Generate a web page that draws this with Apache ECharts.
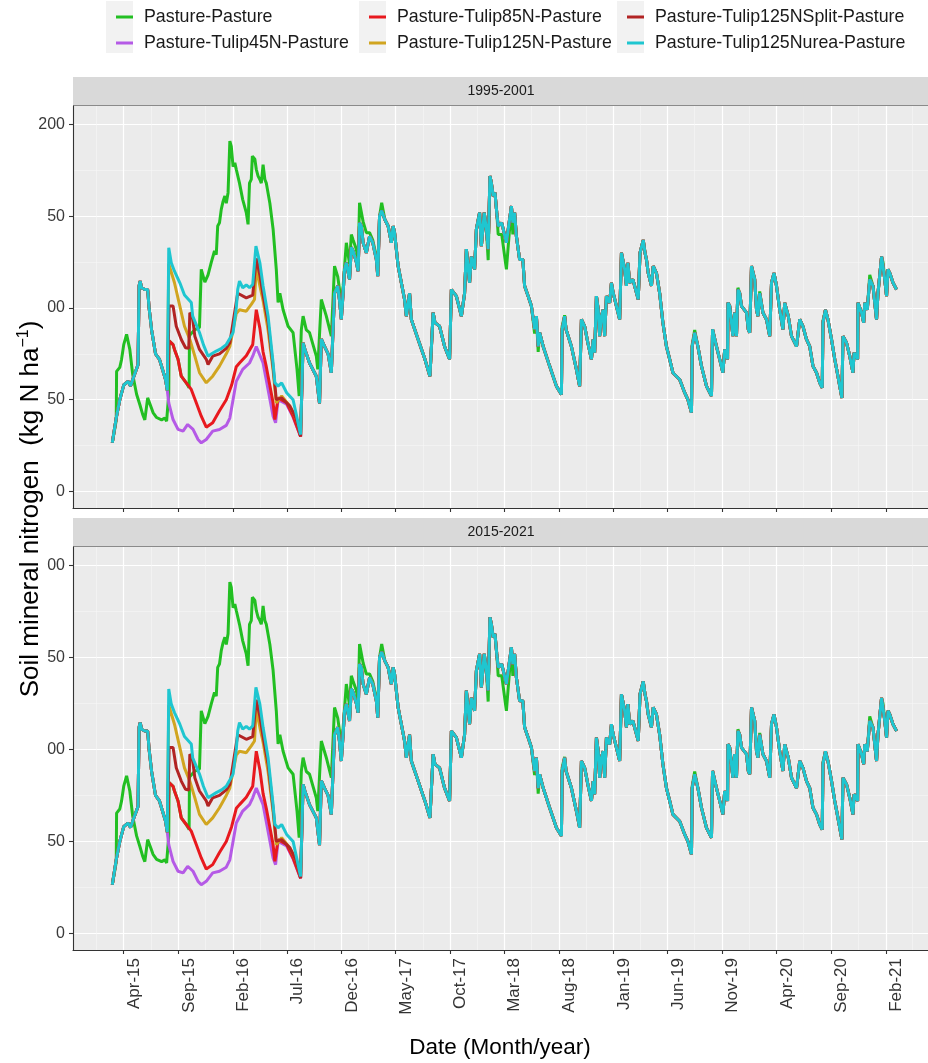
<!DOCTYPE html>
<html><head><meta charset="utf-8">
<script src="https://cdn.jsdelivr.net/npm/echarts@6/dist/echarts.min.js"></script>
<style>html,body{margin:0;padding:0;background:#fff}#c{width:928px;height:1063px}</style>
</head><body><div id="c"></div>
<script>
const seriesNames = ['Pasture-Pasture','Pasture-Tulip45N-Pasture','Pasture-Tulip85N-Pasture','Pasture-Tulip125N-Pasture','Pasture-Tulip125NSplit-Pasture','Pasture-Tulip125Nurea-Pasture'];
const seriesColors = ['#22bf22','#b55ae6','#e8191e','#d1a520','#b22424','#1fc6d0'];
const panelTitles = ['1995-2001','2015-2021'];
const xTickDates = ['2015-04-01','2015-09-01','2016-02-01','2016-07-01','2016-12-01','2017-05-01','2017-10-01','2018-03-01','2018-08-01','2019-01-01','2019-06-01','2019-11-01','2020-04-01','2020-09-01','2021-02-01'];
const xTickLabels = ['Apr-15','Sep-15','Feb-16','Jul-16','Dec-16','May-17','Oct-17','Mar-18','Aug-18','Jan-19','Jun-19','Nov-19','Apr-20','Sep-20','Feb-21'];
const xMinorDates = ['2015-01-15','2015-06-16','2015-11-16','2016-04-16','2016-09-15','2017-02-14','2017-07-16','2017-12-15','2018-05-16','2018-10-16','2019-03-17','2019-08-16','2020-01-16','2020-06-16','2020-11-16','2021-04-17'];
const yTickValues = [0,50,100,150,200];
const yTickLabelsTop = ['0','50','00','50','200'];
const yTickLabelsBottom = ['0','50','00','50','00'];
const yMinorValues = [25,75,125,175];

// Pasture-Pasture
const greenEarly = [['2015-02-28',26.5],['2015-03-11',38.7],['2015-03-12',65.4],['2015-03-21',67.6],['2015-03-26',72],['2015-04-01',80],['2015-04-09',85.6],['2015-04-18',77.4],['2015-04-26',63.8],['2015-05-07',53],['2015-05-16',47.4],['2015-05-24',42],['2015-05-30',39],['2015-06-07',51],['2015-06-17',45.8],['2015-06-22',43],['2015-07-02',40.3],['2015-07-16',39],['2015-07-25',40],['2015-07-30',38.3],['2015-08-03',38.3],['2015-08-05',53],['2015-08-06',82],['2015-08-17',80],['2015-08-21',77.4],['2015-08-31',72],['2015-09-09',62.8],['2015-09-23',59.2],['2015-10-01',56.5],['2015-10-02',85],['2015-10-16',88],['2015-10-30',89.4],['2015-11-04',121],['2015-11-14',114],['2015-11-23',118],['2015-12-02',124.8],['2015-12-07',124.6],['2015-12-11',131],['2015-12-16',129],['2015-12-20',144.6],['2015-12-25',146.4],['2015-12-30',153.7],['2016-01-04',158],['2016-01-09',161],['2016-01-13',157],['2016-01-18',162.8],['2016-01-23',190.9],['2016-01-27',188],['2016-02-01',177],['2016-02-06',179],['2016-02-10',175.5],['2016-02-19',168],['2016-02-28',159],['2016-03-09',151.9],['2016-03-14',145.5],['2016-03-16',157],['2016-03-18',168],['2016-03-23',170],['2016-03-26',182.7],['2016-04-02',181],['2016-04-06',175.5],['2016-04-11',171.8],['2016-04-16',170],['2016-04-20',168],['2016-04-25',178],['2016-04-30',170],['2016-05-04',168],['2016-05-14',157],['2016-05-23',143],['2016-06-01',121],['2016-06-06',103],['2016-06-11',108],['2016-06-20',99],['2016-07-04',90],['2016-07-18',86.5],['2016-07-29',66.5],['2016-08-04',52]];
const greenLate = [['2016-08-10',88],['2016-08-15',95.5],['2016-08-24',88],['2016-09-02',86.5],['2016-09-21',73.7],['2016-09-25',66.5],['2016-10-05',104.6],['2016-10-19',95.5],['2016-11-02',84.6],['2016-11-11',122.8],['2016-11-20',117],['2016-11-25',110],['2016-11-30',100],['2016-12-05',112],['2016-12-14',135.5],['2016-12-23',124],['2016-12-28',140],['2017-01-02',137],['2017-01-11',132],['2017-01-16',126],['2017-01-20',157.3],['2017-01-30',147],['2017-02-08',141],['2017-02-17',141],['2017-02-26',137],['2017-03-08',128],['2017-03-12',120],['2017-03-17',150],['2017-03-23',157.3],['2017-04-01',148],['2017-04-10',144.6],['2017-04-19',135.5],['2017-04-24',144.6],['2017-04-28',141],['2017-05-08',122.8],['2017-05-17',113.7],['2017-05-26',104.6],['2017-05-31',95.5],['2017-06-09',108],['2017-06-14',93.7],['2017-07-03',82.8],['2017-07-22',72],['2017-08-05',62.8],['2017-08-14',97.4],['2017-08-19',92],['2017-09-01',90],['2017-09-15',79],['2017-09-29',72],['2017-10-04',110],['2017-10-18',106.4],['2017-11-01',95.5],['2017-11-10',108],['2017-11-15',132],['2017-11-24',113.7],['2017-11-29',128],['2017-12-08',121],['2017-12-13',142.8],['2017-12-22',151.9],['2017-12-27',133.7],['2018-01-04',151.9],['2018-01-10',142.8],['2018-01-15',126],['2018-01-20',171.8],['2018-01-24',168],['2018-01-29',161],['2018-02-03',162.8],['2018-02-08',151.9],['2018-02-12',140],['2018-02-22',140],['2018-03-07',121],['2018-03-21',155.5],['2018-03-25',140],['2018-03-30',151.9],['2018-04-04',139],['2018-04-13',126.4],['2018-04-22',126.4],['2018-04-27',112],['2018-05-07',106.4],['2018-05-16',101],['2018-05-25',86],['2018-05-30',95.5],['2018-06-04',76],['2018-06-08',86.5],['2018-06-18',79],['2018-07-06',68.3],['2018-07-25',57.4],['2018-08-08',52.9],['2018-08-10',90],['2018-08-17',96],['2018-08-21',88.3],['2018-09-05',79],['2018-09-19',66.5],['2018-09-28',57.4],['2018-10-03',93.7],['2018-10-12',90],['2018-10-21',81],['2018-10-31',72],['2018-11-05',82.8],['2018-11-09',75.6],['2018-11-14',106.4],['2018-11-19',99],['2018-11-23',84.6],['2018-11-28',95.5],['2018-12-03',99],['2018-12-07',84.6],['2018-12-12',106.4],['2018-12-21',102.8],['2018-12-26',113.7],['2018-12-31',108],['2019-01-09',101],['2019-01-18',93.7],['2019-01-23',130],['2019-02-01',121],['2019-02-06',112],['2019-02-10',124.6],['2019-02-15',113.7],['2019-02-24',115.5],['2019-03-11',104.6],['2019-03-16',130],['2019-03-25',137],['2019-03-30',130],['2019-04-03',126.4],['2019-04-08',119],['2019-04-17',112],['2019-04-22',122.8],['2019-05-01',119],['2019-05-10',108],['2019-05-19',92],['2019-05-29',79],['2019-06-07',72],['2019-06-16',64.7],['2019-07-05',61],['2019-07-19',53.8],['2019-07-28',50],['2019-08-02',46.5],['2019-08-07',43],['2019-08-09',80],['2019-08-16',88],['2019-08-25',79],['2019-09-04',68.3],['2019-09-18',57.4],['2019-10-02',52],['2019-10-05',88.3],['2019-10-16',79],['2019-10-25',72],['2019-11-03',64.7],['2019-11-08',77.4],['2019-11-16',72],['2019-11-17',102.8],['2019-11-22',101],['2019-12-01',84.6],['2019-12-06',97.4],['2019-12-11',84.6],['2019-12-15',111],['2019-12-20',108],['2019-12-25',101],['2020-01-08',97.4],['2020-01-13',88.3],['2020-01-17',86.5],['2020-01-22',122.8],['2020-01-31',115.5],['2020-02-05',99],['2020-02-09',95.5],['2020-02-14',109],['2020-02-23',97.4],['2020-03-04',93.7],['2020-03-13',84.6],['2020-03-18',113.7],['2020-03-25',119],['2020-04-01',112],['2020-04-10',99],['2020-04-19',88.3],['2020-04-24',102.8],['2020-05-04',95.5],['2020-05-13',84.6],['2020-05-27',79],['2020-06-05',93.7],['2020-06-14',90],['2020-06-24',82.8],['2020-07-03',79],['2020-07-12',68.3],['2020-07-22',64.7],['2020-07-31',59.2],['2020-08-07',56.5],['2020-08-09',93],['2020-08-16',99],['2020-08-23',93.7],['2020-09-02',82.8],['2020-09-11',72],['2020-09-20',62.8],['2020-10-01',51],['2020-10-04',84.6],['2020-10-14',81],['2020-10-23',73.7],['2020-11-01',64.7],['2020-11-04',75.6],['2020-11-14',72],['2020-11-15',102.8],['2020-11-25',97.4],['2020-12-01',92],['2020-12-04',102.8],['2020-12-11',99],['2020-12-18',118],['2020-12-27',112],['2021-01-06',93.7],['2021-01-10',108],['2021-01-20',128],['2021-01-24',125],['2021-01-29',115.5],['2021-02-03',106.4],['2021-02-07',121],['2021-02-12',119],['2021-02-21',113.7],['2021-03-03',110]];

// Shared by all tulip treatments before planting (identical lines)
const prePlant = [['2015-02-28',26.5],['2015-03-11',40],['2015-03-21',50],['2015-04-01',58],['2015-04-13',60],['2015-04-20',57.5],['2015-04-28',62],['2015-05-11',69],['2015-05-14',112],['2015-05-17',114.6],['2015-05-21',111],['2015-05-30',110],['2015-06-07',110],['2015-06-11',100],['2015-06-18',88],['2015-06-29',75],['2015-07-10',72],['2015-07-27',61],['2015-08-01',55],['2015-08-03',56]];

const purpleMid = [['2015-08-05',48.3],['2015-08-17',39.2],['2015-08-31',33.8],['2015-09-14',32.9],['2015-09-27',36.5],['2015-10-12',33.8],['2015-10-26',28.3],['2015-11-04',26.5],['2015-11-18',28.3],['2015-12-06',32.9],['2015-12-25',33.8],['2016-01-13',36],['2016-01-23',40],['2016-02-10',60],['2016-02-28',66.5],['2016-03-18',70],['2016-03-27',73.7],['2016-04-06',79],['2016-04-25',70],['2016-05-23',41],['2016-05-30',37.4],['2016-06-06',50],['2016-06-30',47.5],['2016-07-18',40.5],['2016-08-08',30]];
const redMid = [['2015-08-06',82],['2015-08-17',80],['2015-08-21',77.4],['2015-08-31',72],['2015-09-09',62.8],['2015-09-23',59.2],['2015-10-07',55.6],['2015-10-21',48.3],['2015-11-04',41],['2015-11-18',35],['2015-12-06',37.4],['2015-12-25',44],['2016-01-13',50],['2016-01-28',58],['2016-02-10',68],['2016-02-19',70],['2016-03-09',74],['2016-03-27',80],['2016-04-01',81],['2016-04-06',99],['2016-04-16',89],['2016-04-25',76],['2016-05-04',68],['2016-05-23',48.3],['2016-05-28',39.2],['2016-06-06',51],['2016-06-30',48.3],['2016-07-18',41],['2016-08-08',30]];
const goldMid = [['2015-08-05',124],['2015-08-21',113.7],['2015-09-05',101],['2015-09-18',90],['2015-10-03',82.8],['2015-10-17',73.7],['2015-10-30',64.7],['2015-11-18',59.2],['2015-12-06',62.8],['2015-12-25',68.3],['2016-01-13',75],['2016-01-23',79],['2016-02-10',97],['2016-02-19',99],['2016-03-09',98.2],['2016-03-23',101.9],['2016-04-01',104.6],['2016-04-06',122],['2016-04-16',112],['2016-04-25',104],['2016-05-09',88],['2016-05-23',66],['2016-06-01',48.3],['2016-06-16',52],['2016-07-09',46.5],['2016-07-26',40],['2016-08-08',31]];
const brownMid = [['2015-08-06',101],['2015-08-17',101],['2015-08-26',90],['2015-09-09',82.8],['2015-09-21',78.3],['2015-09-30',78],['2015-10-03',97.4],['2015-10-10',95.5],['2015-10-17',84.6],['2015-10-30',77.4],['2015-11-18',72],['2015-11-23',69.2],['2015-12-06',73.7],['2015-12-25',75],['2016-01-13',78],['2016-01-23',81],['2016-02-01',92],['2016-02-14',108],['2016-03-09',105.5],['2016-03-27',107],['2016-04-01',108],['2016-04-06',127],['2016-04-16',118],['2016-04-25',107],['2016-05-09',92],['2016-05-23',68],['2016-06-01',50],['2016-06-16',51],['2016-07-09',46.5],['2016-07-26',40],['2016-08-08',30]];
const cyanMid = [['2015-08-05',132.8],['2015-08-12',124.6],['2015-08-21',120],['2015-09-05',113.7],['2015-09-18',107],['2015-10-07',103],['2015-10-11',95.5],['2015-10-30',86.6],['2015-11-10',80],['2015-11-23',73.7],['2015-12-03',75],['2015-12-16',76.5],['2015-12-31',78],['2016-01-13',80],['2016-01-25',84],['2016-02-01',86.6],['2016-02-10',100],['2016-02-14',110],['2016-02-19',114.6],['2016-02-28',111],['2016-03-09',112.5],['2016-03-18',111],['2016-03-27',112.8],['2016-04-01',113],['2016-04-05',133.7],['2016-04-16',124.6],['2016-04-25',112],['2016-05-09',95.5],['2016-05-23',70],['2016-05-28',59.2],['2016-06-06',57.4],['2016-06-16',59.2],['2016-06-30',53.8],['2016-07-18',50],['2016-08-01',37.4],['2016-08-08',31]];

// Shared by all tulip treatments after the lines converge
const treatLate = [['2016-08-15',81],['2016-08-20',77.4],['2016-09-02',70],['2016-09-21',62.8],['2016-09-30',48],['2016-10-05',83],['2016-10-14',79],['2016-10-24',75],['2016-11-02',64.7],['2016-11-11',108],['2016-11-20',112],['2016-11-25',104],['2016-11-30',93.7],['2016-12-05',108],['2016-12-09',121],['2016-12-14',124.6],['2016-12-23',115.5],['2016-12-28',133],['2017-01-02',131],['2017-01-11',125],['2017-01-16',120],['2017-01-20',146.4],['2017-01-25',144.6],['2017-01-30',135.5],['2017-02-08',130],['2017-02-17',139],['2017-02-26',135.5],['2017-03-08',126.4],['2017-03-12',117.3],['2017-03-17',150],['2017-03-23',153],['2017-04-01',148],['2017-04-10',144.6],['2017-04-19',135.5],['2017-04-24',144.6],['2017-04-28',141],['2017-05-08',122.8],['2017-05-17',113.7],['2017-05-26',104.6],['2017-05-31',95.5],['2017-06-09',108],['2017-06-14',93.7],['2017-07-03',82.8],['2017-07-22',72],['2017-08-05',62.8],['2017-08-14',97.4],['2017-08-19',92],['2017-09-01',90],['2017-09-15',79],['2017-09-29',72],['2017-10-04',110],['2017-10-18',106.4],['2017-11-01',95.5],['2017-11-10',108],['2017-11-15',132],['2017-11-24',113.7],['2017-11-29',128],['2017-12-08',121],['2017-12-13',142.8],['2017-12-22',151.9],['2017-12-27',133.7],['2018-01-04',151.9],['2018-01-10',142.8],['2018-01-15',132],['2018-01-20',171.8],['2018-01-24',168],['2018-01-29',161],['2018-02-03',162.8],['2018-02-08',151.9],['2018-02-12',144.6],['2018-02-22',146.4],['2018-03-07',135.5],['2018-03-21',155.5],['2018-03-25',146.4],['2018-03-30',151.9],['2018-04-04',139],['2018-04-13',126.4],['2018-04-22',126.4],['2018-04-27',112],['2018-05-07',106.4],['2018-05-16',101],['2018-05-25',88.3],['2018-05-30',95.5],['2018-06-04',79],['2018-06-08',86.5],['2018-06-18',79],['2018-07-06',68.3],['2018-07-25',57.4],['2018-08-08',52.9],['2018-08-10',88.3],['2018-08-17',95.5],['2018-08-21',88.3],['2018-09-05',79],['2018-09-19',66.5],['2018-09-28',57.4],['2018-10-03',93.7],['2018-10-12',90],['2018-10-21',81],['2018-10-31',72],['2018-11-05',82.8],['2018-11-09',75.6],['2018-11-14',106.4],['2018-11-19',99],['2018-11-23',84.6],['2018-11-28',95.5],['2018-12-03',99],['2018-12-07',84.6],['2018-12-12',106.4],['2018-12-21',102.8],['2018-12-26',113.7],['2018-12-31',108],['2019-01-09',101],['2019-01-18',93.7],['2019-01-23',130],['2019-02-01',121],['2019-02-06',112],['2019-02-10',124.6],['2019-02-15',113.7],['2019-02-24',115.5],['2019-03-11',104.6],['2019-03-16',130],['2019-03-25',137],['2019-03-30',130],['2019-04-03',126.4],['2019-04-08',119],['2019-04-17',112],['2019-04-22',122.8],['2019-05-01',119],['2019-05-10',108],['2019-05-19',92],['2019-05-29',79],['2019-06-07',72],['2019-06-16',64.7],['2019-07-05',61],['2019-07-19',53.8],['2019-07-28',50],['2019-08-02',46.5],['2019-08-07',43],['2019-08-09',79],['2019-08-16',86.5],['2019-08-25',79],['2019-09-04',68.3],['2019-09-18',57.4],['2019-10-02',52],['2019-10-05',88.3],['2019-10-16',79],['2019-10-25',72],['2019-11-03',64.7],['2019-11-08',77.4],['2019-11-16',72],['2019-11-17',102.8],['2019-11-22',101],['2019-12-01',84.6],['2019-12-06',97.4],['2019-12-11',84.6],['2019-12-15',110],['2019-12-20',108],['2019-12-25',101],['2020-01-08',97.4],['2020-01-13',88.3],['2020-01-17',86.5],['2020-01-22',122.8],['2020-01-31',115.5],['2020-02-05',99],['2020-02-09',95.5],['2020-02-14',108],['2020-02-23',97.4],['2020-03-04',93.7],['2020-03-13',84.6],['2020-03-18',113.7],['2020-03-25',119],['2020-04-01',112],['2020-04-10',99],['2020-04-19',88.3],['2020-04-24',102.8],['2020-05-04',95.5],['2020-05-13',84.6],['2020-05-27',79],['2020-06-05',93.7],['2020-06-14',90],['2020-06-24',82.8],['2020-07-03',79],['2020-07-12',68.3],['2020-07-22',64.7],['2020-07-31',59.2],['2020-08-07',56.5],['2020-08-09',92],['2020-08-16',99],['2020-08-23',93.7],['2020-09-02',82.8],['2020-09-11',72],['2020-09-20',62.8],['2020-10-01',51],['2020-10-04',84.6],['2020-10-14',81],['2020-10-23',73.7],['2020-11-01',64.7],['2020-11-04',75.6],['2020-11-14',72],['2020-11-15',102.8],['2020-11-25',97.4],['2020-12-01',92],['2020-12-04',102.8],['2020-12-11',99],['2020-12-18',115.5],['2020-12-27',112],['2021-01-06',93.7],['2021-01-10',108],['2021-01-20',128],['2021-01-24',122.8],['2021-01-29',115.5],['2021-02-03',106.4],['2021-02-07',121],['2021-02-12',119],['2021-02-21',113.7],['2021-03-03',110]];

const seriesData = [
  greenEarly.concat(greenLate),
  prePlant.concat(purpleMid, treatLate),
  prePlant.concat(redMid, treatLate),
  prePlant.concat(goldMid, treatLate),
  prePlant.concat(brownMid, treatLate),
  prePlant.concat(cyanMid, treatLate)
];

const FONT = '"Liberation Sans", Arial, sans-serif';
function parseDay(s){const p=s.split('-').map(Number);return Date.UTC(p[0],p[1]-1,p[2]);}
const xTickTs = xTickDates.map(parseDay);
const xMinorTs = xMinorDates.map(parseDay);
function xLabel(v){
  for(let i=0;i<xTickTs.length;i++){ if(Math.abs(xTickTs[i]-v)<43200000) return xTickLabels[i]; }
  return '';
}
const X_MIN=parseDay('2014-11-10'), X_MAX=parseDay('2021-05-30'), Y_MIN=-9, Y_MAX=210;
const panelTops=[106,547], panelHeights=[402,403];
const grids=[], xAxes=[], yAxes=[], series=[];
for(let p=0;p<2;p++){
  grids.push({left:73, top:panelTops[p], right:0, height:panelHeights[p], show:true, backgroundColor:'#EBEBEB', borderWidth:0});
  xAxes.push({type:'value', gridIndex:p, min:X_MIN, max:X_MAX, position:'bottom', scale:true,
    axisLine:{show:true, onZero:false, lineStyle:{color:'#333', width:1.1}},
    axisTick:{show:true, length:4, lineStyle:{color:'#333', width:1.1}, customValues:xTickTs},
    axisLabel:{show:p===1, customValues:xTickTs, rotate:90, formatter:xLabel, fontSize:17, color:'#333', margin:8, fontFamily:FONT, verticalAlign:'top', lineHeight:21},
    splitLine:{show:true, lineStyle:{color:'#ffffff', width:1.2}}});
  xAxes.push({type:'value', gridIndex:p, min:X_MIN, max:X_MAX, position:'top', scale:true,
    axisLine:{show:false}, axisTick:{show:false, customValues:xMinorTs}, axisLabel:{show:false, customValues:xMinorTs},
    splitLine:{show:true, lineStyle:{color:'#f7f7f7', width:0.6}}});
  const labs = p===0 ? yTickLabelsTop : yTickLabelsBottom;
  yAxes.push({type:'value', gridIndex:p, min:Y_MIN, max:Y_MAX, position:'left',
    axisLine:{show:true, onZero:false, lineStyle:{color:'#333', width:1.1}},
    axisTick:{show:true, length:4, lineStyle:{color:'#333', width:1.1}, customValues:yTickValues},
    axisLabel:{customValues:yTickValues, formatter:(v)=>{const i=yTickValues.indexOf(Math.round(v));return i>=0?labs[i]:'';}, fontSize:16, color:'#3a3a3a', margin:8, fontFamily:FONT},
    splitLine:{show:true, lineStyle:{color:'#ffffff', width:1.2}}});
  yAxes.push({type:'value', gridIndex:p, min:Y_MIN, max:Y_MAX, position:'left',
    axisLine:{show:false}, axisTick:{show:false, customValues:yMinorValues}, axisLabel:{show:false, customValues:yMinorValues},
    splitLine:{show:true, lineStyle:{color:'#f7f7f7', width:0.6}}});
  for(let s=0;s<6;s++){
    series.push({type:'line', name:seriesNames[s], xAxisIndex:2*p, yAxisIndex:2*p, data:seriesData[s].map(d=>[parseDay(d[0]), d[1]]),
      symbol:'none', showSymbol:false, smooth:false, lineStyle:{width:3, color:seriesColors[s]}, itemStyle:{color:seriesColors[s]}, z:2+s});
  }
}
function legendCol(left, names){
  return {orient:'vertical', left:left, top:3, itemWidth:17, itemHeight:3, itemGap:8, icon:'rect', data:names,
    textStyle:{fontSize:17.8, color:'#1a1a1a', lineHeight:18, padding:[0,0,0,6], fontFamily:FONT}, selectedMode:false};
}
const graphics=[
  {type:'rect', shape:{x:106,y:1,width:27,height:52}, style:{fill:'#f2f2f2'}, z:-1},
  {type:'rect', shape:{x:359,y:1,width:27,height:52}, style:{fill:'#f2f2f2'}, z:-1},
  {type:'rect', shape:{x:617,y:1,width:27,height:52}, style:{fill:'#f2f2f2'}, z:-1}
];
for(let p=0;p<2;p++){
  const sTop = p===0 ? 77 : 518;
  graphics.push({type:'rect', shape:{x:73,y:sTop,width:855,height:panelTops[p]-sTop}, style:{fill:'#D9D9D9'}});
  graphics.push({type:'line', shape:{x1:73,y1:panelTops[p]-0.5,x2:928,y2:panelTops[p]-0.5}, style:{stroke:'#8a8a8a', lineWidth:1}});
  graphics.push({type:'text', x:501, y:(sTop+panelTops[p])/2, style:{text:panelTitles[p], font:'14px '+FONT, fill:'#1a1a1a', align:'center', verticalAlign:'middle'}});
}
graphics.push({type:'text', x:31, y:509, rotation:Math.PI/2, style:{text:'{a|Soil mineral nitrogen  (kg N ha}{s|−1}{a|)}', fill:'#000', align:'center', verticalAlign:'middle',
  rich:{a:{fontSize:26, fontFamily:FONT, fill:'#000'}, s:{fontSize:16, fontFamily:FONT, fill:'#000', padding:[0,0,14,0]}}}});
graphics.push({type:'text', x:500, y:1048, style:{text:'Date (Month/year)', font:'22.5px '+FONT, fill:'#000', align:'center', verticalAlign:'middle'}});

const chart = echarts.init(document.getElementById('c'), null, {renderer:'canvas'});
chart.setOption({
  animation:false,
  backgroundColor:'#ffffff',
  legend:[legendCol(111,[seriesNames[0],seriesNames[1]]), legendCol(364,[seriesNames[2],seriesNames[3]]), legendCol(622,[seriesNames[4],seriesNames[5]])],
  grid:grids, xAxis:xAxes, yAxis:yAxes, series:series, graphic:graphics
});
</script></body></html>
